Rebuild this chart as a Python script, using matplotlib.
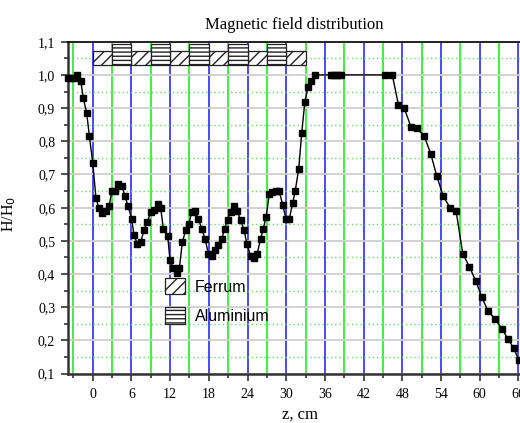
import matplotlib
matplotlib.use("Agg")
import matplotlib.pyplot as plt
from matplotlib.patches import Rectangle, Patch
from matplotlib.ticker import MultipleLocator, FuncFormatter

# Measured field profile along the axis
z_cm = [-3.78, -3.26, -2.90, -2.48, -1.86, -1.45, -0.93, -0.52, 0.0, 0.51,
        0.98, 1.49, 2.06, 2.53, 2.99, 3.51, 3.98, 4.54, 5.0, 5.47,
        6.04, 6.4, 6.92, 7.44, 7.95, 8.47, 8.99, 9.5, 10.07, 10.54,
        10.95, 11.63, 11.98, 12.5, 13.0, 13.43, 13.9, 14.42, 14.93, 15.35,
        15.86, 16.37, 16.9, 17.41, 17.92, 18.45, 18.96, 19.5, 20.0, 20.45,
        20.9, 21.4, 21.9, 22.4, 22.95, 23.46, 23.9, 24.5, 25.0, 25.5,
        26.05, 26.45, 26.87, 27.38, 27.85, 28.37, 28.9, 29.46, 29.97, 30.48,
        31.0, 31.4, 31.95, 32.4, 32.88, 33.38, 33.9, 34.4, 36.9, 37.3,
        37.7, 38.1, 38.5, 45.3, 46.45, 47.4, 48.3, 49.35, 50.3, 51.4,
        52.4, 53.35, 54.35, 55.4, 56.35, 57.37, 58.4, 59.4, 60.3, 61.3,
        62.4, 63.45, 64.4, 65.3, 66.05]
h_ratio = [0.990, 0.990, 0.990, 1.000, 0.982, 0.929, 0.884, 0.816, 0.735, 0.628,
           0.598, 0.583, 0.590, 0.605, 0.651, 0.651, 0.672, 0.666, 0.635, 0.605,
           0.567, 0.517, 0.490, 0.497, 0.532, 0.557, 0.587, 0.592, 0.611, 0.598,
           0.537, 0.514, 0.442, 0.417, 0.402, 0.417, 0.497, 0.532, 0.552, 0.587,
           0.590, 0.567, 0.537, 0.507, 0.462, 0.454, 0.474, 0.487, 0.505, 0.537,
           0.564, 0.587, 0.604, 0.590, 0.562, 0.532, 0.492, 0.454, 0.447, 0.462,
           0.507, 0.537, 0.572, 0.641, 0.648, 0.651, 0.651, 0.608, 0.567, 0.567,
           0.613, 0.651, 0.718, 0.825, 0.917, 0.963, 0.983, 1.000, 1.000, 1.000,
           1.000, 1.000, 1.000, 1.000, 1.000, 0.910, 0.900, 0.843, 0.839, 0.816,
           0.763, 0.695, 0.635, 0.600, 0.589, 0.462, 0.422, 0.379, 0.332, 0.288,
           0.265, 0.235, 0.204, 0.176, 0.141]

# Layers of the screen: start positions (cm), thickness and marker height range
ferrum_start = [0, 6, 12, 18, 24, 30]
aluminium_start = [3, 9, 15, 21, 27]
layer_width = 3
ferrum_y = (1.030, 1.073)
aluminium_y = (1.030, 1.092)

x_ticks = list(range(0, 67, 6))

serif = "Liberation Serif"
sans = "Liberation Sans"

fig = plt.figure(figsize=(5.20, 4.23), dpi=100)
ax = fig.add_axes([0.1302, 0.1166, 0.8698, 0.7848])

ax.set_xlim(-3.88, 66.25)
ax.set_ylim(0.1, 1.1)

ax.xaxis.set_major_locator(MultipleLocator(6))
ax.xaxis.set_minor_locator(MultipleLocator(3))
ax.yaxis.set_major_locator(MultipleLocator(0.1))
ax.yaxis.set_minor_locator(MultipleLocator(0.05))
ax.set_xticks(x_ticks)

ax.yaxis.set_major_formatter(FuncFormatter(lambda v, p: f"{v:.1f}".replace(".", ",")))

# grid: blue/green verticals, gray solid and green dotted horizontals
ax.set_axisbelow(True)
ax.xaxis.grid(True, which="major", color="#3a3aff", linewidth=1.3)
ax.xaxis.grid(True, which="minor", color="#33ee33", linewidth=1.3)
ax.yaxis.grid(True, which="major", color="#cfcfcf", linewidth=1.3)
ax.yaxis.grid(True, which="minor", color="#66e066", linewidth=1.0, linestyle=(0, (1, 2)))

for s in ferrum_start:
    ax.add_patch(Rectangle((s, ferrum_y[0]), layer_width, ferrum_y[1] - ferrum_y[0],
                           facecolor="white", edgecolor="#222222", hatch="///",
                           linewidth=0.9, zorder=3))
for s in aluminium_start:
    ax.add_patch(Rectangle((s, aluminium_y[0]), layer_width, aluminium_y[1] - aluminium_y[0],
                           facecolor="white", edgecolor="#222222", hatch="----",
                           linewidth=0.9, zorder=3))

ax.plot(z_cm, h_ratio, color="black", linewidth=1.0, marker="s",
        markersize=3.8, markerfacecolor="black", markeredgecolor="black", zorder=5,
        clip_on=False)

ax.spines["right"].set_visible(False)
ax.spines["left"].set_linewidth(1.8)
ax.spines["left"].set_color("#333333")
ax.spines["bottom"].set_linewidth(1.8)
ax.spines["bottom"].set_color("#333333")
ax.spines["top"].set_linewidth(1.2)
ax.spines["top"].set_color("black")

ax.tick_params(axis="both", which="major", direction="out", length=5, width=1.2,
               color="#333333", labelsize=10)
ax.tick_params(axis="both", which="minor", direction="out", length=3, width=1.2,
               color="#333333")
ax.tick_params(axis="y", which="major", pad=4)
ax.tick_params(axis="x", which="major", pad=5)
for lab in ax.get_xticklabels() + ax.get_yticklabels():
    lab.set_fontfamily(serif)

ax.set_title("Magnetic field distribution", fontfamily=serif, fontsize=12, pad=9)
ax.set_xlabel("z, cm", fontfamily=serif, fontsize=12)
ax.xaxis.set_label_coords(0.513, -0.098)
ax.set_ylabel("H/H$_0$", fontfamily=serif, fontsize=11.5)
ax.yaxis.set_label_coords(-0.11, 0.48)

handles = [Patch(facecolor="white", edgecolor="#222222", hatch="///", linewidth=0.9),
           Patch(facecolor="white", edgecolor="#222222", hatch="----", linewidth=0.9)]
leg = ax.legend(handles, ["Ferrum", "Aluminium"], loc="upper left",
                bbox_to_anchor=(0.215, 0.288), frameon=False, borderpad=0,
                borderaxespad=0, handlelength=1.25, handleheight=1.2,
                handletextpad=0.6, labelspacing=0.8,
                prop={"family": sans, "size": 11.5})

fig.savefig("out.png", dpi=100)
